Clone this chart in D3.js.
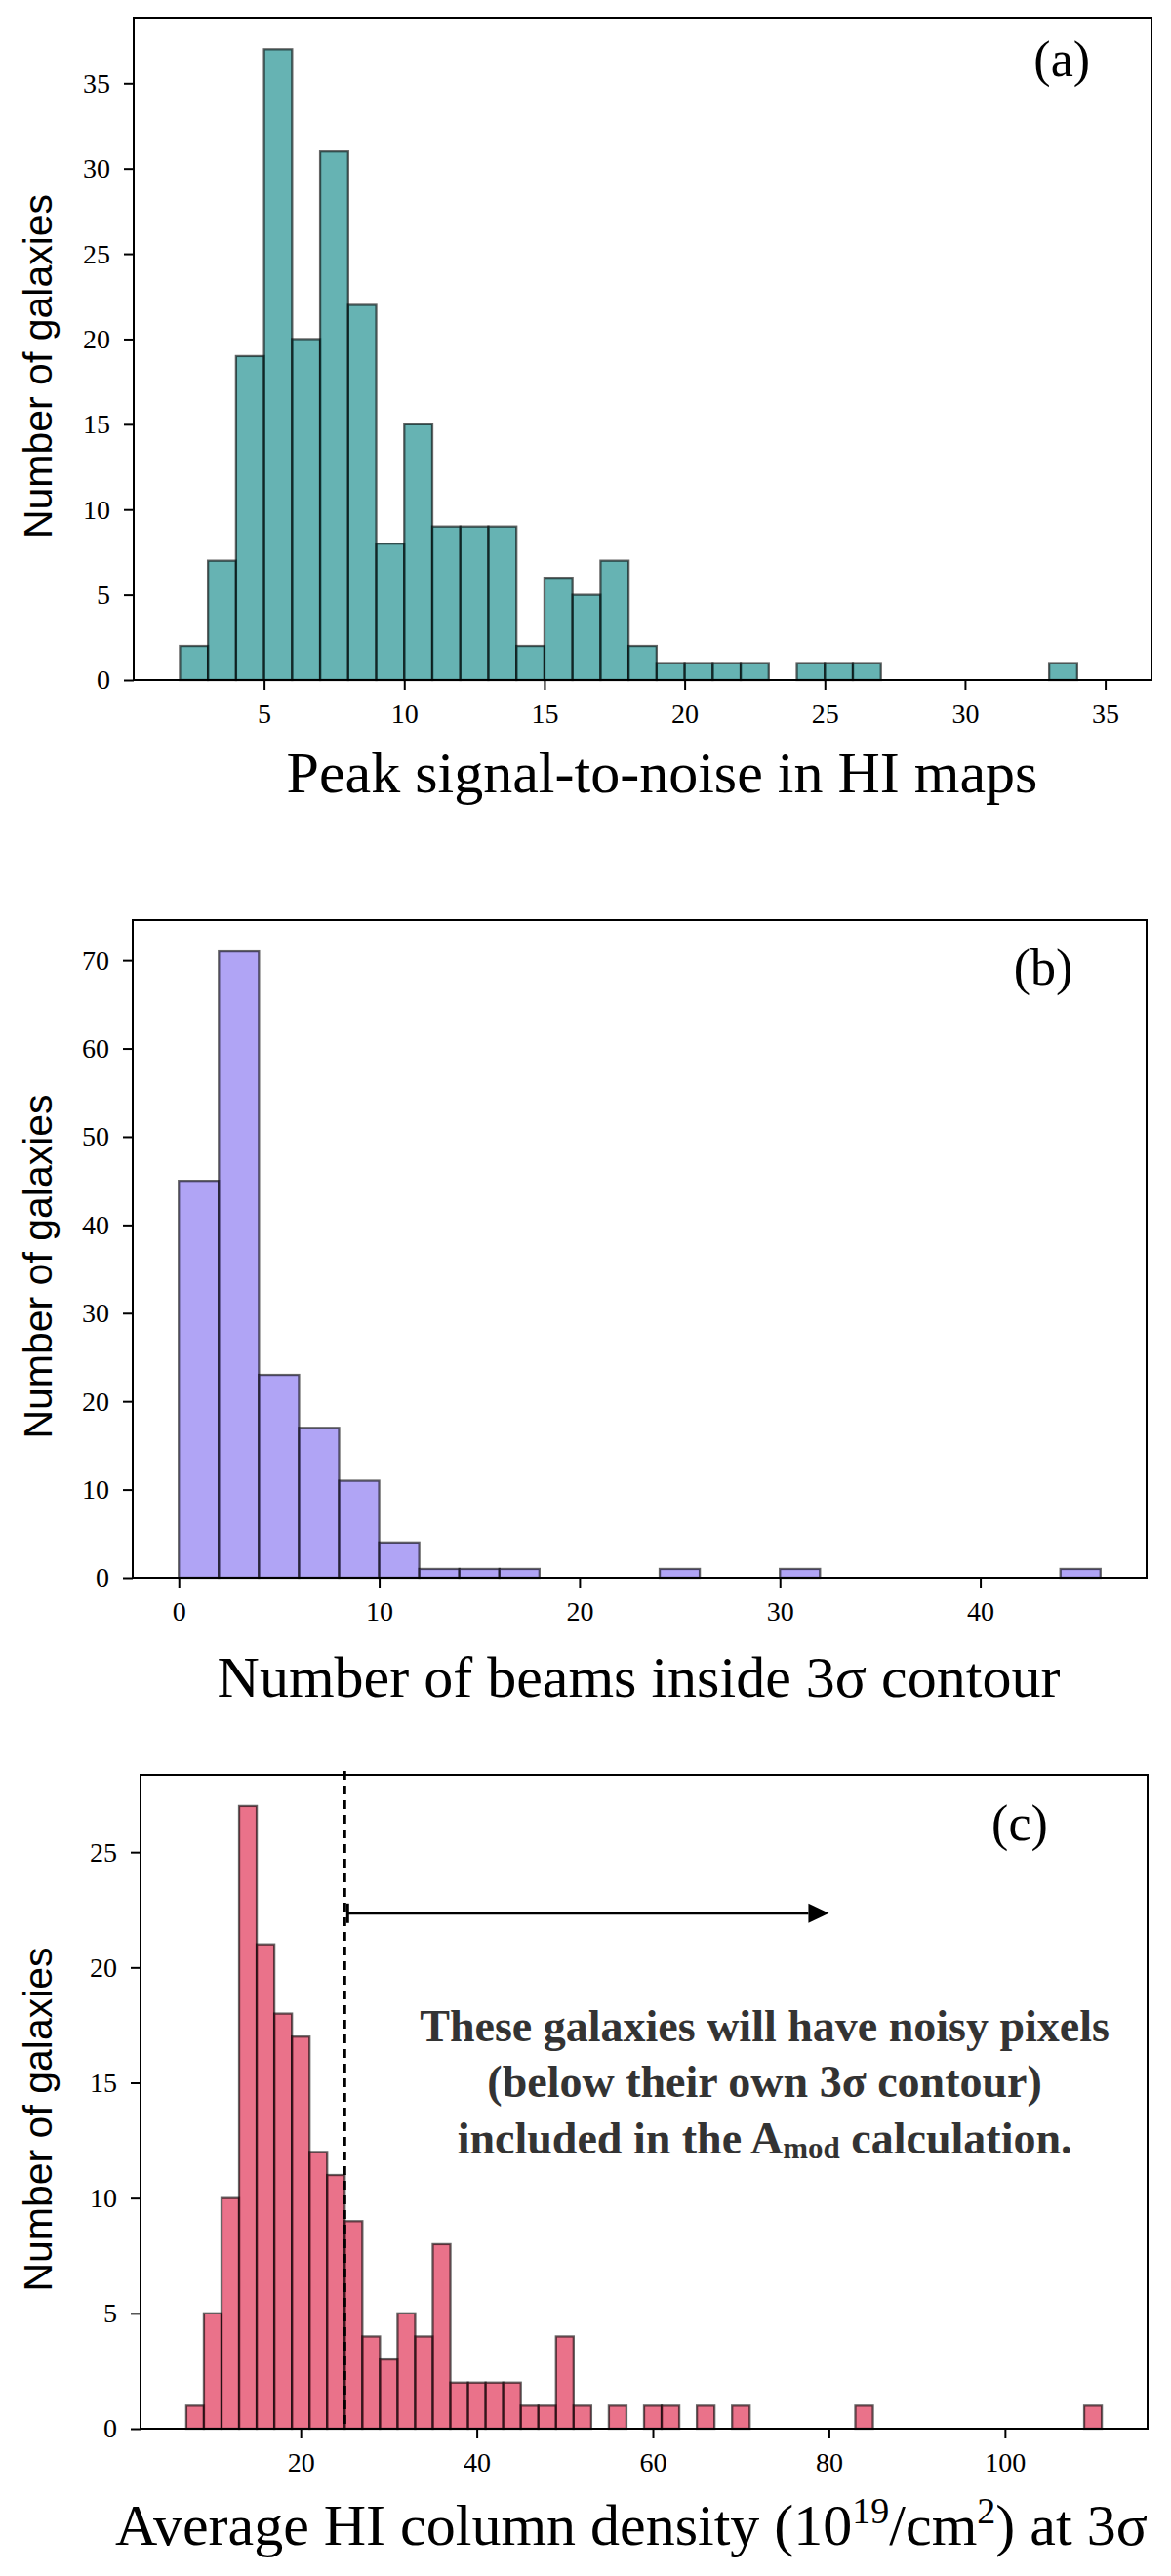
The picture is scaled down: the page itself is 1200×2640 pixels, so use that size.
<!DOCTYPE html>
<html>
<head>
<meta charset="utf-8">
<script src="https://cdn.jsdelivr.net/npm/d3@7"></script>
<style>
  body { margin: 0; background: #fff; }
  .tick text { font-family: 'Liberation Serif', 'Times New Roman', serif; font-size: 28px; fill: #000; }
  .tick line { stroke: #000; stroke-width: 2; }
  .x-title { font-family: 'Liberation Serif', 'Times New Roman', serif; font-size: 60px; fill: #000; }
  .y-title { font-family: 'Liberation Sans', Arial, sans-serif; font-size: 41px; fill: #000; }
  .panel-label { font-family: 'Liberation Serif', 'Times New Roman', serif; font-size: 52px; fill: #000; }
  .note { font-family: 'Liberation Serif', 'Times New Roman', serif; font-weight: bold; font-size: 46px; fill: #333; }
</style>
</head>
<body>
<svg id="chart" width="1200" height="2640"></svg>
<script>
// (a) peak signal-to-noise, bins of 1 starting at 2
const snrBinStart = 2;
const snrBinWidth = 1;
const snrCounts = [2, 7, 19, 37, 20, 31, 22, 8, 15, 9, 9, 9, 2, 6, 5, 7, 2,
                   1, 1, 1, 1, 0, 1, 1, 1, 0, 0, 0, 0, 0, 0, 1, 0];
const snrTicksX = [5, 10, 15, 20, 25, 30, 35];
const snrTicksY = [0, 5, 10, 15, 20, 25, 30, 35];

// (b) number of beams inside 3 sigma contour, bins of 2 starting at 0
const beamBinStart = 0;
const beamBinWidth = 2;
const beamCounts = [45, 71, 23, 17, 11, 4, 1, 1, 1, 0, 0, 0, 1, 0, 0, 1,
                    0, 0, 0, 0, 0, 0, 1];
const beamTicksX = [0, 10, 20, 30, 40];
const beamTicksY = [0, 10, 20, 30, 40, 50, 60, 70];

// (c) average HI column density at 3 sigma, bins of 2 starting at 7
const nhiBinStart = 7;
const nhiBinWidth = 2;
const nhiCounts = [1, 5, 10, 27, 21, 18, 17, 12, 11, 9, 4, 3, 5, 4, 8, 2, 2, 2, 2,
                   1, 1, 4, 1, 0, 1, 0, 1, 1, 0, 1, 0, 1, 0, 0, 0, 0, 0, 0, 1,
                   0, 0, 0, 0, 0, 0, 0, 0, 0, 0, 0, 0, 1];
const nhiTicksX = [20, 40, 60, 80, 100];
const nhiTicksY = [0, 5, 10, 15, 20, 25];
const nhiThreshold = 25;
const arrowEnd = 80;
const arrowLevel = 22.35;
const noteLines = ['These galaxies will have noisy pixels', '(below their own 3σ contour)', 'included in the '];

const svg = d3.select('#chart');
svg.append('rect').attr('width', 1200).attr('height', 2640).attr('fill', '#fff');

function drawHistogram(cfg) {
  const box = cfg.box;
  const bins = cfg.counts.map((c, i) => ({
    x0: cfg.binStart + i * cfg.binWidth,
    x1: cfg.binStart + (i + 1) * cfg.binWidth,
    count: c
  }));
  const lo = bins[0].x0, hi = bins[bins.length - 1].x1;
  const pad = (hi - lo) * 0.05;

  const x = d3.scaleLinear().domain([lo - pad, hi + pad]).range([box.left, box.right]);
  const y = d3.scaleLinear().domain([0, d3.max(cfg.counts) * 1.05]).range([box.bottom, box.top]);

  const g = svg.append('g');

  // bars (face and edge share the same alpha, like matplotlib)
  g.selectAll('.bar')
      .data(bins.filter(d => d.count > 0))
    .join('rect')
      .attr('class', 'bar')
      .attr('x', d => x(d.x0))
      .attr('y', d => y(d.count))
      .attr('width', d => x(d.x1) - x(d.x0))
      .attr('height', d => y(0) - y(d.count))
      .attr('fill', cfg.color)
      .attr('fill-opacity', 0.6)
      .attr('stroke', '#000')
      .attr('stroke-opacity', 0.6)
      .attr('stroke-width', 2.3);

  if (cfg.extra) cfg.extra(g, x, y);

  // axes
  const xAxis = g.append('g')
      .attr('transform', `translate(0,${box.bottom})`)
      .call(d3.axisBottom(x).tickValues(cfg.xTicks).tickSize(10).tickSizeOuter(0).tickPadding(14));
  const yAxis = g.append('g')
      .attr('transform', `translate(${box.left},0)`)
      .call(d3.axisLeft(y).tickValues(cfg.yTicks).tickSize(10).tickSizeOuter(0).tickPadding(14));
  xAxis.select('.domain').remove();
  yAxis.select('.domain').remove();

  // frame
  g.append('rect')
      .attr('x', box.left)
      .attr('y', box.top)
      .attr('width', box.right - box.left)
      .attr('height', box.bottom - box.top)
      .attr('fill', 'none')
      .attr('stroke', '#000')
      .attr('stroke-width', 2);

  // titles
  const xt = g.append('text')
      .attr('class', 'x-title')
      .attr('text-anchor', 'middle')
      .attr('x', (box.left + box.right) / 2 + cfg.xTitleShift)
      .attr('y', box.bottom + cfg.xTitleDrop);
  let raised = false;
  cfg.xTitle.forEach(seg => {
    const ts = xt.append('tspan').text(seg.text);
    if (seg.sup) {
      ts.attr('font-size', 38).attr('dy', raised ? 0 : -22);
      raised = true;
    } else if (raised) {
      ts.attr('dy', 22);
      raised = false;
    }
  });

  g.append('text')
      .attr('class', 'y-title')
      .attr('text-anchor', 'middle')
      .attr('transform', `translate(53,${(box.top + box.bottom) / 2 + 18}) rotate(-90)`)
      .text('Number of galaxies');

  g.append('text')
      .attr('class', 'panel-label')
      .attr('text-anchor', 'middle')
      .attr('x', box.left + cfg.labelPos[0] * (box.right - box.left))
      .attr('y', box.top + cfg.labelPos[1])
      .text(cfg.label);
}

drawHistogram({
  box: {left: 137, right: 1180, top: 18, bottom: 697},
  binStart: snrBinStart, binWidth: snrBinWidth, counts: snrCounts,
  xTicks: snrTicksX, yTicks: snrTicksY,
  color: 'teal',
  xTitle: [{text: 'Peak signal-to-noise in HI maps'}],
  xTitleShift: 20, xTitleDrop: 115,
  label: '(a)', labelPos: [0.912, 60]
});

drawHistogram({
  box: {left: 136, right: 1175, top: 943, bottom: 1617},
  binStart: beamBinStart, binWidth: beamBinWidth, counts: beamCounts,
  xTicks: beamTicksX, yTicks: beamTicksY,
  color: 'mediumslateblue',
  xTitle: [{text: 'Number of beams inside 3σ contour'}],
  xTitleShift: -1, xTitleDrop: 122,
  label: '(b)', labelPos: [0.898, 66]
});

drawHistogram({
  box: {left: 144, right: 1176, top: 1819, bottom: 2489},
  binStart: nhiBinStart, binWidth: nhiBinWidth, counts: nhiCounts,
  xTicks: nhiTicksX, yTicks: nhiTicksY,
  color: 'crimson',
  xTitle: [{text: 'Average HI column density (10'}, {text: '19', sup: true},
           {text: '/cm'}, {text: '2', sup: true}, {text: ') at 3σ'}],
  xTitleShift: -13, xTitleDrop: 119,
  label: '(c)', labelPos: [0.873, 67],
  extra: (g, x, y) => {
    // threshold line
    g.append('line')
        .attr('x1', x(nhiThreshold)).attr('x2', x(nhiThreshold))
        .attr('y1', y.range()[1] - 4).attr('y2', y.range()[0])
        .attr('stroke', '#000')
        .attr('stroke-width', 3)
        .attr('stroke-dasharray', '9,6');

    // arrow to the right of the threshold
    const ay = y(arrowLevel);
    const headLen = 21, headHalf = 10;
    g.append('line')
        .attr('x1', x(nhiThreshold) + 2).attr('x2', x(arrowEnd) - headLen)
        .attr('y1', ay).attr('y2', ay)
        .attr('stroke', '#000').attr('stroke-width', 3);
    g.append('line')
        .attr('x1', x(nhiThreshold) + 3).attr('x2', x(nhiThreshold) + 3)
        .attr('y1', ay - headHalf).attr('y2', ay + headHalf)
        .attr('stroke', '#000').attr('stroke-width', 3);
    g.append('path')
        .attr('d', `M${x(arrowEnd)},${ay} L${x(arrowEnd) - headLen},${ay - headHalf} L${x(arrowEnd) - headLen},${ay + headHalf} Z`)
        .attr('fill', '#000');

    // note text
    const nx = x(72.7), ny = y(16.8);
    noteLines.forEach((line, i) => {
      const t = g.append('text')
          .attr('class', 'note')
          .attr('text-anchor', 'middle')
          .attr('x', nx)
          .attr('y', ny + i * 57.4);
      t.append('tspan').text(line);
      if (i === 2) {
        t.append('tspan').text('A');
        t.append('tspan').attr('font-size', 31).attr('dy', 5).text('mod');
        t.append('tspan').attr('dy', -5).text(' calculation.');
      }
    });
  }
});
</script>
</body>
</html>
